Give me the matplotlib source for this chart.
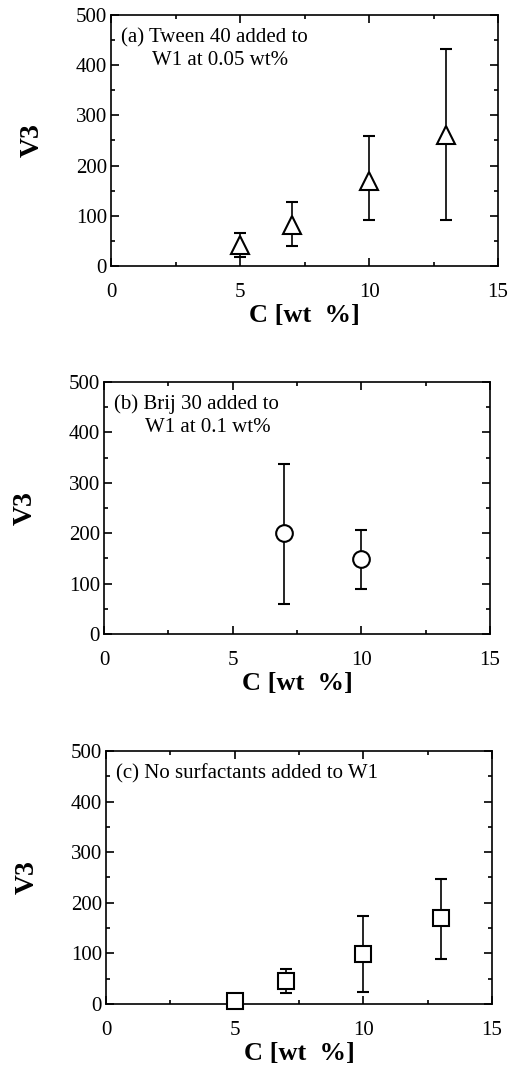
import numpy as np
import matplotlib
matplotlib.use("Agg")
import matplotlib.pyplot as plt
from matplotlib.ticker import MultipleLocator

plt.rcParams['font.family'] = ['Liberation Serif', 'DejaVu Serif']

# (a) Tween 40 added to W1 at 0.05 wt%
c_a = [5, 7, 10, 13]
v_a = [41, 81, 170, 260]
lo_a = [18, 40, 91, 91]
hi_a = [66, 128, 258, 432]

# (b) Brij 30 added to W1 at 0.1 wt%
c_b = [7, 10]
v_b = [200, 149]
lo_b = [59, 89]
hi_b = [338, 206]

# (c) no surfactants
c_c = [5, 7, 10, 13]
v_c = [5, 45, 99, 169]
lo_c = [5, 22, 24, 89]
hi_c = [5, 69, 174, 247]

panels = [
    (c_a, v_a, lo_a, hi_a, '^', 13, ["(a) Tween 40 added to", "W1 at 0.05 wt%"],
     [0.2185, 0.7505, 0.762, 0.2355]),
    (c_b, v_b, lo_b, hi_b, 'o', 12, ["(b) Brij 30 added to", "W1 at 0.1 wt%"],
     [0.2047, 0.4053, 0.760, 0.2364]),
    (c_c, v_c, lo_c, hi_c, 's', 12, ["(c) No surfactants added to W1"],
     [0.2087, 0.0582, 0.760, 0.2373]),
]

fig = plt.figure(figsize=(5.08, 10.66), dpi=100)

for cs, vs, lo, hi, mk, ms, note, rect in panels:
    ax = fig.add_axes(rect)
    vs = np.array(vs)
    yerr = [vs - np.array(lo), np.array(hi) - vs]
    ax.errorbar(cs, vs, yerr=yerr, fmt=mk, ms=ms, mfc='white', mec='black',
                mew=1.5, ecolor='black', elinewidth=1.2, capsize=4, capthick=1.2,
                clip_on=False, zorder=3)
    ax.set_xlim(0, 15)
    ax.set_ylim(0, 500)
    ax.xaxis.set_major_locator(MultipleLocator(5))
    ax.xaxis.set_minor_locator(MultipleLocator(2.5))
    ax.yaxis.set_major_locator(MultipleLocator(100))
    ax.yaxis.set_minor_locator(MultipleLocator(50))
    ax.tick_params(which='both', direction='in', top=True, right=True,
                   labelsize=15, width=1.2)
    ax.tick_params(axis='x', pad=12)
    ax.tick_params(axis='y', pad=3)
    ax.tick_params(which='major', length=6)
    ax.tick_params(which='minor', length=3)
    for s in ax.spines.values():
        s.set_linewidth(1.2)
    ax.set_xlabel("C [wt  %]", fontsize=19, fontweight='bold', labelpad=2)
    ax.set_ylabel("V3", fontsize=20, fontweight='bold', labelpad=22)
    ax.text(0.025, 0.91, note[0], transform=ax.transAxes, fontsize=15,
            va='center', ha='left')
    if len(note) > 1:
        ax.text(0.105, 0.82, note[1], transform=ax.transAxes, fontsize=15,
                va='center', ha='left')

fig.savefig("out.png", dpi=100)
